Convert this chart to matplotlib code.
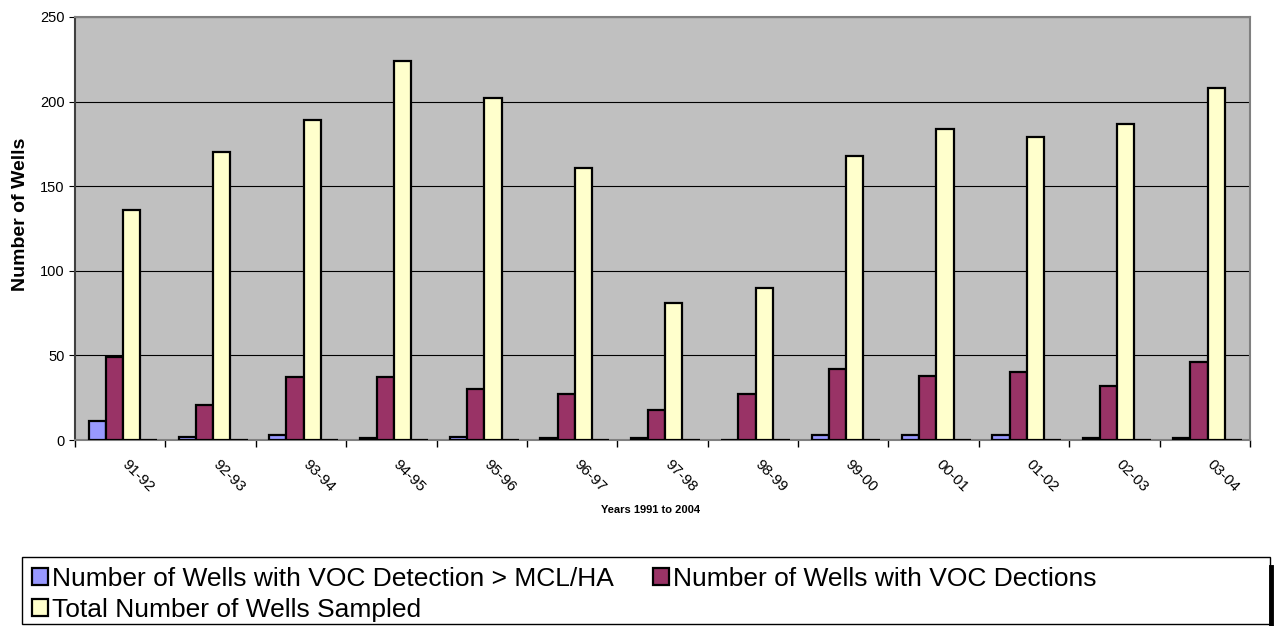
import numpy as np
import matplotlib.pyplot as plt
from matplotlib.patches import Rectangle
from matplotlib.lines import Line2D

plt.rcParams['font.family'] = ['Liberation Sans', 'DejaVu Sans']

years = ['91-92', '92-93', '93-94', '94-95', '95-96', '96-97', '97-98',
         '98-99', '99-00', '00-01', '01-02', '02-03', '03-04']
over_mcl = [11, 2, 3, 1, 2, 1, 1, 0, 3, 3, 3, 1, 1]
voc_detections = [49, 21, 37, 37, 30, 27, 18, 27, 42, 38, 40, 32, 46]
total_sampled = [136, 170, 189, 224, 202, 161, 81, 90, 168, 184, 179, 187, 208]
blank_series = [0] * len(years)

series = [
    (over_mcl, '#9999FF', 'Number of Wells with VOC Detection > MCL/HA'),
    (voc_detections, '#993366', 'Number of Wells with VOC Dections'),
    (total_sampled, '#FFFFCC', 'Total Number of Wells Sampled'),
    (blank_series, '#000000', None),
]

fig = plt.figure(figsize=(12.75, 6.26), dpi=100)
ax = fig.add_axes([0.0588, 0.297, 0.9216, 0.676])
ax.set_facecolor('#C0C0C0')

x = np.arange(len(years))
w = 0.19
bars = []
for i, (vals, col, lab) in enumerate(series):
    b = ax.bar(x + (i - 1.5) * w + 0.03, vals, width=w, color=col,
               edgecolor='black', linewidth=1.6, zorder=3)
    bars.append(b)

ax.set_xlim(-0.5, len(years) - 0.5)
ax.set_ylim(0, 250)
ax.set_yticks(range(0, 251, 50))
ax.yaxis.grid(True, color='black', linewidth=0.8, zorder=1)
ax.set_axisbelow(True)

# category labels slanted downwards, ticks only between groups
ax.set_xticks(x)
ax.set_xticklabels([])
ax.tick_params(axis='x', which='major', length=0)
for xi, yr in zip(x, years):
    ax.annotate(yr, xy=(xi, 0), xycoords=('data', 'axes fraction'),
                xytext=(3, -16), textcoords='offset points',
                rotation=-45, rotation_mode='anchor', ha='left', va='center',
                fontsize=11)
ax.set_xticks(np.arange(-0.5, len(years), 1), minor=True)
ax.tick_params(axis='x', which='minor', length=5, width=1, color='black')
ax.tick_params(axis='y', length=4, labelsize=10.5)

for s in ['top', 'right', 'bottom']:
    ax.spines[s].set_color('#808080')
    ax.spines[s].set_linewidth(1.5)
ax.spines['left'].set_color('#404040')
ax.spines['left'].set_linewidth(1.5)

fig.text(0.016, 0.657, 'Number of Wells', rotation=90, ha='center', va='center',
         fontsize=14, fontweight='bold')
fig.text(0.51, 0.185, 'Years 1991 to 2004', ha='center', va='center',
         fontsize=8, fontweight='bold')

# legend box with dark edge on the right
fig.add_artist(Rectangle((0.017, 0.003), 0.979, 0.107, transform=fig.transFigure,
                         facecolor='white', edgecolor='black', linewidth=1.0))
fig.add_artist(Line2D([0.9965, 0.9965], [0.003, 0.095], transform=fig.transFigure,
                      color='black', linewidth=3.5))

labels = [s[2] for s in series[:3]]
# row-wise order: first row has series 1 and 2, second row series 3
order = [0, 2, 1]
fig.legend([bars[i] for i in order], [labels[i] for i in order],
           loc='upper left', bbox_to_anchor=(0.019, 0.107),
           ncol=2, frameon=False, fontsize=19, handlelength=0.6, handleheight=0.6,
           handletextpad=0.15, columnspacing=1.5, labelspacing=0.25,
           borderaxespad=0, borderpad=0.3)

fig.savefig('out.png', dpi=100)
